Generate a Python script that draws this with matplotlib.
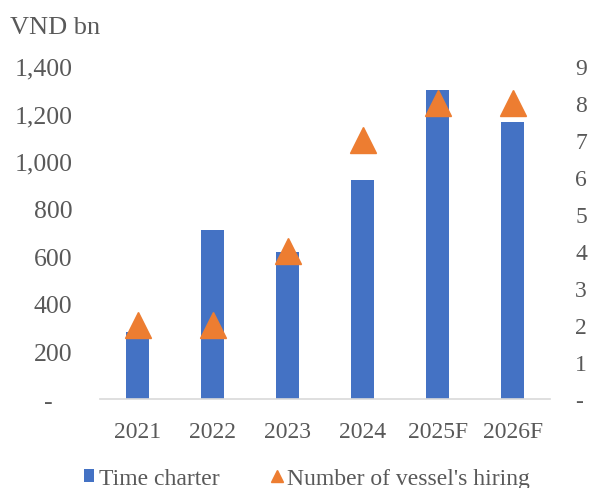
import matplotlib.pyplot as plt
import numpy as np

years = ["2021", "2022", "2023", "2024", "2025F", "2026F"]
time_charter = [280, 710, 620, 920, 1300, 1165]
vessels = [2, 2, 4, 7, 8, 8]

plt.rcParams['font.family'] = ['Liberation Serif', 'DejaVu Serif']
grey = "#595959"
fs = 17

fig = plt.figure(figsize=(5.9, 4.89), dpi=100)
ax = fig.add_axes([0.1695, 0.182, 0.763, 0.681])
x = np.arange(len(years))

ax.bar(x, time_charter, width=0.31, color="#4472C4", label="Time charter", zorder=2)
ax.set_ylim(0, 1400)
ax.set_yticks(range(0, 1401, 200))
ax.set_yticklabels(["-   "] + [f"{v:,}" for v in range(200, 1401, 200)])
ax.set_xlim(-0.5, len(years) - 0.5)
ax.set_xticks(x)
ax.set_xticklabels(years)

ax2 = ax.twinx()
ax2.plot(x, vessels, linestyle="none", marker="^", markersize=19,
         color="#ED7D31", label="Number of vessel's hiring", zorder=3)
ax2.set_ylim(0, 9)
ax2.set_yticks(range(0, 10))
ax2.set_yticklabels(["-"] + [str(v) for v in range(1, 10)])

for a in (ax, ax2):
    for s in a.spines.values():
        s.set_visible(False)
    a.tick_params(length=0, labelsize=fs, colors=grey)
ax.tick_params(axis="y", labelsize=18.5)
ax.spines["bottom"].set_visible(True)
ax.spines["bottom"].set_color("#d9d9d9")
ax.spines["bottom"].set_linewidth(1.2)
ax.tick_params(axis="y", pad=20)
ax.tick_params(axis="x", pad=16)
ax2.tick_params(axis="y", pad=18)

fig.text(0.017, 0.943, "VND bn", fontsize=19, color=grey, va="center")

h1, l1 = ax.get_legend_handles_labels()
h2, l2 = ax2.get_legend_handles_labels()
leg = fig.legend(h1 + h2, l1 + l2, loc="center", bbox_to_anchor=(0.52, 0.02),
                 ncol=2, frameon=False, fontsize=fs, handlelength=0.45,
                 handleheight=0.45, handletextpad=0.2, columnspacing=2.2,
                 markerscale=0.45)
for t in leg.get_texts():
    t.set_color(grey)

plt.savefig("out.png", dpi=100)
